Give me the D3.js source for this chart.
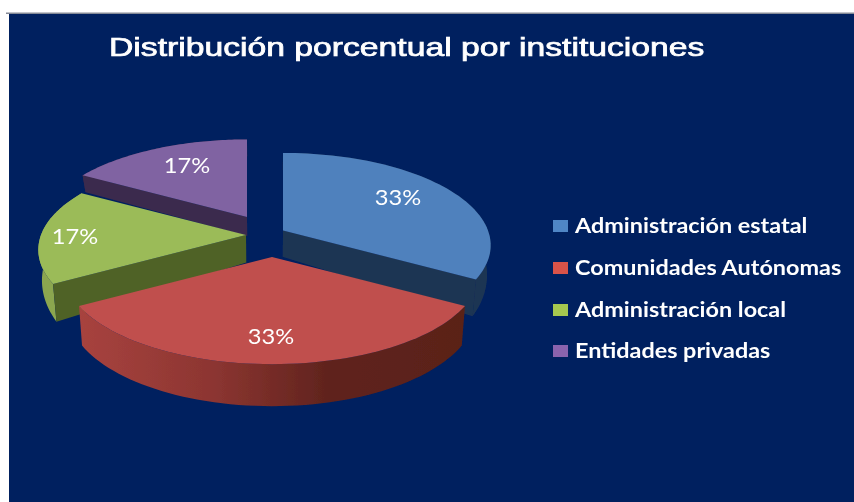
<!DOCTYPE html>
<html><head><meta charset="utf-8">
<script src="https://cdn.jsdelivr.net/npm/d3@7/dist/d3.min.js"></script>
<style>html,body{margin:0;padding:0;background:#fff;overflow:hidden}svg{display:block}</style>
</head><body><svg id="c" width="854" height="502"></svg>
<script>
const titleText = "Distribución porcentual por instituciones";
const categories = ["Administración estatal","Comunidades Autónomas","Administración local","Entidades privadas"];
const values = [33.33,33.33,16.67,16.67];
const labels = ["33%","33%","17%","17%"];
const topColors = ["#4f81bd","#c0504d","#9bbb59","#8064a2"];
const legendColors = ["#4f86c6","#d9534a","#a6c84f","#8a63ad"];
const cutColors = ["#1f3653","#5a1f1a","#4f6228","#3a2a4e"];
const rimFill = ["#1f3653","url(#redRim)","#8ba650","#3a2a4e"];
const visibleCut = [1,null,0,0];
const apexes = [[283,230.5],[272,257],[246,235],[247,217]];
const labelPos = [[398,197],[271,336],[75,236],[187,165]];
const legendY = [226,268,310,351];
const drawOrder = [3,0,2,1];

const R = 1, persp = 0.16, sx = d3.scaleLinear([0,1],[0,205]), sy = d3.scaleLinear([0,1],[0,90]);
const depth = d3.scaleLinear([176,217,232,290,363],[17,19,27,39,42]).clamp(true);
const lean = 0.016, vanishX = 265;
function local(a,r){ // a clockwise from top
  const u=r*Math.sin(a), v=-r*Math.cos(a), w=1/(1-persp*v);
  return [sx(u)*w, sy(v)*w];
}
const svg=d3.select("#c");
const defs=svg.append("defs");
defs.append("filter").attr("id","soft").attr("x","-5%").attr("y","-5%").attr("width","110%").attr("height","110%")
  .append("feGaussianBlur").attr("stdDeviation",0.6);
const grad=defs.append("linearGradient").attr("id","redRim").attr("gradientUnits","userSpaceOnUse")
  .attr("x1",77).attr("x2",467).attr("y1",0).attr("y2",0);
[[0,"#a8433f"],[0.35,"#8c3531"],[0.65,"#5f231d"],[1,"#5a2018"]].forEach(s=>grad.append("stop").attr("offset",s[0]).attr("stop-color",s[1]));

svg.append("rect").attr("x",0).attr("y",0).attr("width",854).attr("height",502).attr("fill","#fff");
svg.append("rect").attr("x",9).attr("y",14).attr("width",845).attr("height",488).attr("fill","#00205f");
svg.append("rect").attr("x",6).attr("y",12.5).attr("width",848).attr("height",1.5).attr("fill","#858a96");

const arcs=d3.pie().value(d=>d).sort(null)(values);
const line=d3.line().curve(d3.curveLinear);
const g=svg.append("g").attr("filter","url(#soft)");
function P(i,a,r){const l=local(a,r);return [apexes[i][0]+l[0],apexes[i][1]+l[1]];}
function drop(p){return [p[0]+(vanishX-p[0])*lean,p[1]+depth(p[1])];}
drawOrder.forEach(i=>{
  const A=arcs[i], n=60;
  const rim=d3.range(n+1).map(k=>P(i,A.startAngle+(A.endAngle-A.startAngle)*k/n,R));
  const apex=P(i,0,0);
  g.append("path").attr("d",line(rim.concat(rim.slice().reverse().map(drop)))+"Z").attr("fill",rimFill[i]);
  if(visibleCut[i]!==null){
    const c=visibleCut[i]?rim[n]:rim[0];
    g.append("path").attr("d",line([apex,c,drop(c),drop(apex)])+"Z").attr("fill",cutColors[i]);
  }
  g.append("path").attr("d",line([apex].concat(rim))+"Z").attr("fill",topColors[i]);
});
g.selectAll("text.pct").data(labels).join("text").attr("class","pct")
  .attr("transform",(d,i)=>`translate(${labelPos[i][0]},${labelPos[i][1]+8}) scale(1.1,1)`)
  .attr("text-anchor","middle").attr("font-family","Lato").attr("font-size",21.5).attr("fill","#fff").text(d=>d);
g.append("text").attr("transform","translate(109,56) scale(1.348,1)").attr("font-family","Liberation Sans").attr("font-size",25)
  .attr("fill","#fff").attr("stroke","#fff").attr("stroke-width",0.7).text(titleText);
const lg=g.selectAll("g.leg").data(categories).join("g").attr("class","leg")
  .attr("transform",(d,i)=>`translate(553,${legendY[i]})`);
lg.append("rect").attr("y",-6).attr("width",15).attr("height",12).attr("fill",(d,i)=>legendColors[i]);
lg.append("text").attr("transform","translate(22,6.5) scale(1.17,1)").attr("font-family","Lato").attr("font-weight",700)
  .attr("font-size",20).attr("fill","#fff").text(d=>d);
</script></body></html>
